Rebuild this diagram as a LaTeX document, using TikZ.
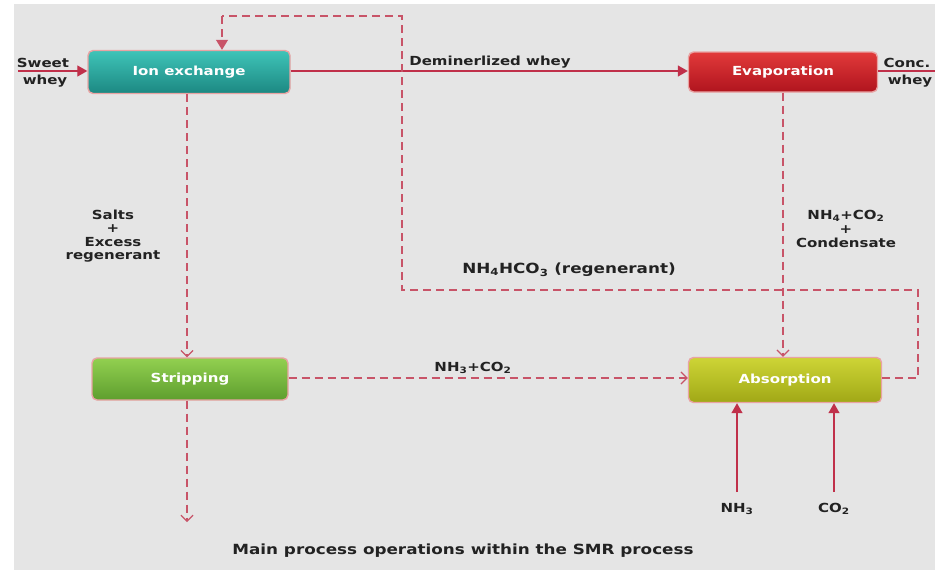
\documentclass[tikz,border=0pt]{standalone}
\usepackage{fontspec}
\setmainfont[FakeStretch=1.2]{DejaVu Sans}
\usetikzlibrary{arrows.meta}
\definecolor{bg}{HTML}{E5E5E5}
\definecolor{flow}{HTML}{C0304A}
\definecolor{dflow}{HTML}{C85468}
\definecolor{edge}{HTML}{E9A3A3}
\definecolor{ixT}{HTML}{3FC4B8}\definecolor{ixB}{HTML}{1C8882}
\definecolor{evT}{HTML}{E23A3A}\definecolor{evB}{HTML}{B0141E}
\definecolor{stT}{HTML}{92D050}\definecolor{stB}{HTML}{5E9E2E}
\definecolor{abT}{HTML}{CDD536}\definecolor{abB}{HTML}{A1A816}
\definecolor{txt}{HTML}{222222}
\tikzset{
  proc/.style={rounded corners=5pt, draw=edge, line width=1.4pt, minimum height=42pt,
    font=\bfseries\fontsize{12.5}{14}\selectfont, text=white},
  lbl/.style={font=\bfseries\fontsize{12.5}{14}\selectfont, text=txt, align=center, inner sep=1pt},
  solidflow/.style={draw=flow, line width=1.3pt, -{Triangle[length=10pt,width=11pt]}},
  dashflow/.style={draw=dflow, line width=1.1pt, dash pattern=on 8pt off 5pt,
    -{Straight Barb[length=6pt,width=12pt,line width=1.2pt]}},
  dashline/.style={draw=dflow, line width=1.1pt, dash pattern=on 8pt off 5pt}
}
\begin{document}
\begin{tikzpicture}[x=1pt,y=-1pt]
\useasboundingbox (0,0) rectangle (935,570);
\fill[white] (0,0) rectangle (935,570);
\fill[bg] (14,4) rectangle (935,570);

% process boxes
\node[proc, top color=ixT, bottom color=ixB, minimum width=202pt, minimum height=43pt] (ion) at (189,72) {Ion exchange};
\node[proc, top color=evT, bottom color=evB, minimum width=189pt, minimum height=40pt] (evap) at (783,72) {Evaporation};
\node[proc, top color=stT, bottom color=stB, minimum width=196pt] (strip) at (190,379) {Stripping};
\node[proc, top color=abT, bottom color=abB, minimum width=193pt, minimum height=45pt] (abs) at (785,380) {Absorption};

% coordinates
\coordinate (swIn) at (18,71);
\coordinate (cwOut) at (935,71);
\coordinate (stOut) at (187,522);
\coordinate (nh3in) at (737,492);
\coordinate (co2in) at (834,492);
\coordinate (r1) at (918,378);
\coordinate (r2) at (918,290);
\coordinate (r3) at (402,290);
\coordinate (r4) at (402,16);
\coordinate (r5) at (222,16);

% labels
\node[lbl, anchor=south] (swA) at (43,69) {Sweet};
\node[lbl, anchor=north] (swB) at (45,74) {whey};
\node[lbl, anchor=south] (cwA) at (907,69) {Conc.};
\node[lbl, anchor=north] (cwB) at (910,74) {whey};
\node[lbl] (dmw) at (490,62) {Deminerlized whey};
\node[lbl, font=\bfseries\fontsize{12.5}{13.5}\selectfont] (salts) at (113,236) {Salts\\+\\Excess\\regenerant};
\node[lbl, font=\bfseries\fontsize{12.5}{14}\selectfont] (cond) at (846,229) {NH\textsubscript{4}+CO\textsubscript{2}\\+\\Condensate};
\node[lbl, font=\bfseries\fontsize{14}{16}\selectfont] (regen) at (569,270) {NH\textsubscript{4}HCO\textsubscript{3} (regenerant)};
\node[lbl] (nhco) at (473,368) {NH\textsubscript{3}+CO\textsubscript{2}};
\node[lbl] (nh3) at (737,509) {NH\textsubscript{3}};
\node[lbl] (co2) at (834,509) {CO\textsubscript{2}};
\node[lbl, font=\bfseries\fontsize{14}{16}\selectfont] (cap) at (463,551) {Main process operations within the SMR process};

% solid flows
\draw[solidflow] (swIn) -- (ion.west |- swIn);
\draw[solidflow] (ion.east |- 0,71) -- (evap.west |- 0,71);
\draw[draw=flow, line width=1.3pt] (evap.east |- cwOut) -- (cwOut);
\draw[solidflow] (nh3in) -- (nh3in |- abs.south);
\draw[solidflow] (co2in) -- (co2in |- abs.south);

% dashed flows
\draw[dashflow] (ion.south -| stOut) -- (strip.north -| stOut);
\draw[dashflow] (strip.south -| stOut) -- (stOut);
\draw[dashflow] (strip.east |- 0,378) -- (abs.west |- 0,378);
\draw[dashflow] (evap.south -| 783,0) -- (abs.north -| 783,0);
\draw[dashline] (abs.east |- r1) -- (r1) -- (r2) -- (r3) -- (r4) -- (r5);
\draw[draw=dflow, line width=1.1pt, dash pattern=on 8pt off 5pt, -{Triangle[length=10pt,width=12pt]}] (r5) -- (ion.north -| r5);
\end{tikzpicture}
\end{document}
